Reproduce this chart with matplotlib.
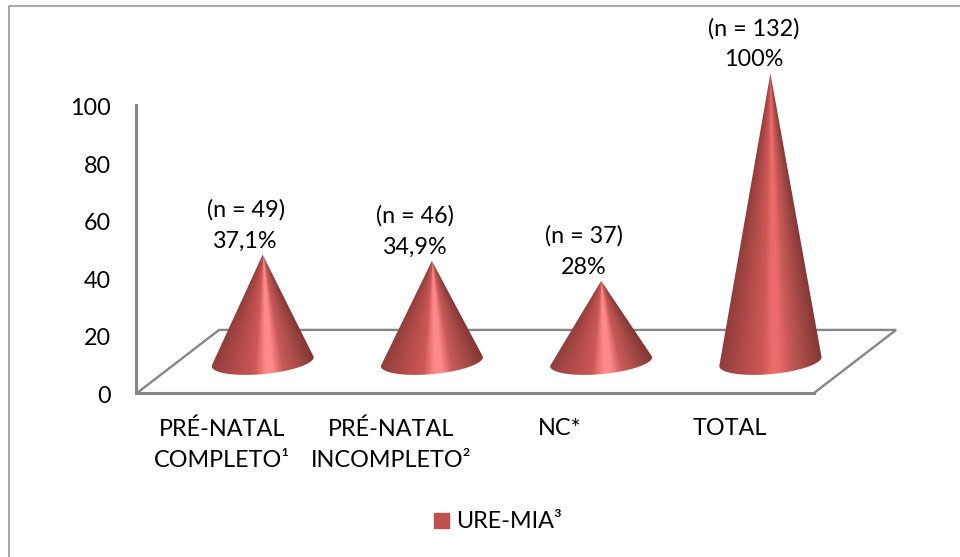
import numpy as np
import matplotlib
matplotlib.use("Agg")
import matplotlib.pyplot as plt
from matplotlib.colors import LinearSegmentedColormap
from matplotlib.lines import Line2D
from matplotlib.patches import Patch, Polygon
from matplotlib.transforms import ScaledTranslation

categories = ["PRÉ-NATAL\nCOMPLETO¹", "PRÉ-NATAL\nINCOMPLETO²", "NC*", "TOTAL"]
values = [37.1, 34.9, 28, 100]
counts = [49, 46, 37, 132]
value_labels = ["37,1%", "34,9%", "28%", "100%"]
y_ticks = [0, 20, 40, 60, 80, 100]
series_name = "URE-MIA³"

GREY = "#868686"
BAR_COLOR = "#c0504d"

# depth of the fake 3d floor and shape of the cone base, in data units
DEPTH_X = 0.485
DEPTH_Y = 21.9
CONE_A = 0.302
CONE_B = 4.4
CONE_TILT = 1.56

plt.rcParams["font.family"] = ["Lato", "DejaVu Sans"]
plt.rcParams["font.size"] = 16.8

W, H = 960, 557
fig = plt.figure(figsize=(W / 100, H / 100), dpi=100)
ax = fig.add_axes([137 / W, 1 - 393 / H, 677 / W, 288 / H])
ax.set_xlim(-0.5, 3.5)
ax.set_ylim(0, 100)
ax.patch.set_visible(False)

for side in ["top", "right"]:
    ax.spines[side].set_visible(False)
for side in ["left", "bottom"]:
    ax.spines[side].set_color(GREY)
    ax.spines[side].set_linewidth(2.2)
ax.spines["left"].set_position(("outward", 1))

ax.set_yticks(y_ticks)
ax.set_xticks(range(len(categories)))
ax.set_xticklabels(categories, linespacing=1.6)
ax.tick_params(axis="both", length=0, labelcolor="black")
ax.tick_params(axis="x", pad=18)
ax.tick_params(axis="y", pad=18)

# nudge the value labels down a little
nudge = ScaledTranslation(0, -1.5 / 100, fig.dpi_scale_trans)
for label in ax.get_yticklabels():
    label.set_transform(label.get_transform() + nudge)

# floor outline behind the cones
floor_x = [-0.5, -0.5 + DEPTH_X, 3.5 + DEPTH_X, 3.5]
floor_y = [0, DEPTH_Y, DEPTH_Y, 0]
ax.plot(floor_x, floor_y, color=GREY, lw=1.7, clip_on=False, zorder=1,
        solid_joinstyle="miter")


def draw_cone(ax, xpos, value, peak):
    cx = xpos + DEPTH_X / 2
    cy = DEPTH_Y / 2
    tip = value + cy

    # lower arc of the base, rising to the right
    t = np.linspace(np.pi, 2 * np.pi, 60)
    ex = cx + CONE_A * np.cos(t)
    ey = cy + CONE_B * np.sin(t) + CONE_TILT * np.cos(t)
    outline = np.column_stack([np.r_[ex, cx], np.r_[ey, tip]])

    cmap = LinearSegmentedColormap.from_list("cone", [
        (0.0, "#8e3d3b"), (0.22, "#b04a48"), (0.42, "#cc5856"),
        (0.52, peak), (0.58, peak), (0.68, "#c85a58"),
        (0.86, "#a04744"), (1.0, "#843836"),
    ])

    # shading follows the slant of the cone, narrowing towards the tip
    bottom = cy - CONE_B - 2
    xs = np.linspace(cx - CONE_A, cx + CONE_A, 300)
    ys = np.linspace(bottom, tip, 500)
    xx, yy = np.meshgrid(xs, ys)
    frac = np.clip((tip - yy) / (tip - cy), 0.01, None)
    u = np.clip((xx - cx) / (CONE_A * frac), -1, 1)
    im = ax.imshow(cmap((u + 1) / 2), origin="lower", aspect="auto",
                   extent=[xs[0], xs[-1], ys[0], ys[-1]], zorder=3,
                   interpolation="bilinear")
    clip = Polygon(outline, closed=True, transform=ax.transData,
                   facecolor="none", edgecolor="none")
    ax.add_patch(clip)
    im.set_clip_box(ax.figure.bbox)
    im.set_clip_path(clip)
    return tip


peaks = ["#ff8a8a", "#ff8a8a", "#ff8a8a", "#ec6b6b"]
for i, value in enumerate(values):
    tip = draw_cone(ax, i, value, peaks[i])
    ax.annotate(f"(n = {counts[i]})\n{value_labels[i]}",
                xy=(i + DEPTH_X / 2, tip), xytext=(-17, 3),
                textcoords="offset pixels", ha="center", va="bottom",
                linespacing=1.6, zorder=4, annotation_clip=False)

ax.set_xlim(-0.5, 3.5)
ax.set_ylim(0, 100)

fig.legend(handles=[Patch(color=BAR_COLOR, label=series_name)],
           loc="center", bbox_to_anchor=(498 / W, 1 - 522 / H), frameon=False,
           handlelength=0.65, handleheight=0.65, handletextpad=0.3)

# chart frame
fig.add_artist(Line2D([9 / W, 9 / W, 1], [0, 1 - 6 / H, 1 - 6 / H],
                      color="#9a9a9a", lw=1.2))

fig.savefig("out.png", dpi=100)
